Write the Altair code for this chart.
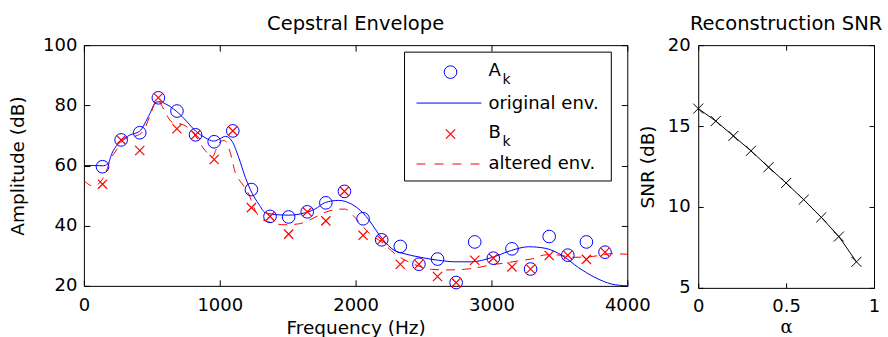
import altair as alt
import pandas as pd

FONT = "DejaVu Sans"
BLUE = "#0000ff"
RED = "#ff0000"
XMARK = "M-1,-1L1,1M-1,1L1,-1"

# ---------------- data ----------------
F0 = 137  # fundamental (Hz)
harmonic = list(range(1, 29))
A_k = [59.6, 68.5, 70.9, 82.5, 78.1, 70.2, 67.9, 71.5, 52.0, 43.1, 42.9, 44.6, 47.6, 51.4,
       42.3, 35.3, 33.1, 27.2, 28.9, 21.1, 34.6, 29.2, 32.3, 25.6, 36.4, 30.2, 34.6, 31.2]
B_k = [53.8, 68.5, 65.0, 82.5, 72.2, 70.2, 62.0, 71.5, 46.0, 43.1, 37.2, 44.6, 41.6, 51.4,
       36.8, 35.3, 27.2, 27.2, 23.1, 21.1, 28.5, 29.2, 26.3, 25.6, 30.1, 30.2, 28.8, 31.2]

orig_freq = [0, 70, 137, 176, 208, 274, 337, 410, 483, 530, 560, 600, 679, 760, 821, 895, 956,
             1005, 1042, 1090, 1140, 1189, 1238, 1287, 1336, 1434, 1507, 1630, 1700, 1777, 1875,
             1973, 2059, 2096, 2194, 2292, 2341, 2488, 2610, 2733, 2855, 3002, 3149, 3272, 3395,
             3517, 3640, 3762, 3885, 4000]
orig_db = [60.0, 60.0, 59.9, 60.5, 64.2, 68.1, 70.1, 71.4, 77.0, 81.0, 81.2, 80.5, 78.1, 74.5,
           71.5, 69.2, 68.1, 69.0, 69.7, 68.1, 62.6, 56.0, 50.8, 47.2, 44.3, 43.6, 43.5, 44.3,
           45.5, 47.7, 48.4, 47.1, 44.0, 42.0, 35.8, 31.6, 30.9, 29.4, 28.5, 28.0, 28.0, 29.4,
           31.8, 33.0, 32.5, 30.2, 26.1, 22.8, 20.6, 20.0]

alt_freq = [0, 66, 110, 160, 200, 235, 274, 310, 410, 450, 485, 544, 567, 655, 728, 801, 838,
            875, 926, 945, 975, 1005, 1035, 1078, 1115, 1164, 1213, 1262, 1300, 1380, 1480, 1580,
            1680, 1780, 1875, 1924, 2000, 2100, 2200, 2300, 2430, 2560, 2680, 2800, 2900, 3000,
            3100, 3200, 3300, 3400, 3480, 3600, 3700, 3810, 3885, 4000]
alt_db = [55.0, 53.2, 54.0, 57.5, 62.5, 64.8, 67.6, 69.0, 70.3, 72.5, 76.4, 82.0, 80.4, 74.2,
          73.6, 71.0, 68.8, 66.0, 63.5, 62.8, 65.5, 68.0, 68.3, 64.2, 57.5, 54.0, 50.5, 45.0,
          42.5, 41.0, 40.3, 40.6, 42.3, 44.5, 45.5, 45.5, 42.5, 37.5, 34.3, 30.3, 27.2, 25.5,
          25.3, 25.5, 26.1, 27.0, 27.6, 28.3, 29.0, 30.3, 30.3, 29.5, 29.6, 30.2, 30.7, 30.5]

alpha_vals = [0.0, 0.1, 0.2, 0.3, 0.4, 0.5, 0.6, 0.7, 0.8, 0.9]
snr_db = [16.08, 15.31, 14.39, 13.47, 12.46, 11.48, 10.45, 9.36, 8.17, 6.61]

freq_ticks = [0, 1000, 2000, 3000, 4000]
amp_ticks = [20, 40, 60, 80, 100]
alpha_ticks = [0, 0.5, 1]
snr_ticks = [5, 10, 15, 20]

legend_labels = ["A", "original env.", "B", "altered env."]
legend_sub = "k"

harm_df = pd.DataFrame({"freq": [k * F0 for k in harmonic], "A": A_k, "B": B_k})
orig_df = pd.DataFrame({"freq": orig_freq, "db": orig_db})
altd_df = pd.DataFrame({"freq": alt_freq, "db": alt_db})
snr_df = pd.DataFrame({"alpha": alpha_vals, "snr": snr_db})
one = pd.DataFrame({"i": [0]})

# ---------------- geometry ----------------
L_W, L_H = 544, 241
R_W, R_H = 176, 243
TITLE_OFFSET = -13.5


def axis(orient, values, title=None, labels=True, tick=6, lp=8, tp=5, fmt=None,
         title_font=FONT, title_size=18.5):
    kw = dict(orient=orient, values=values, domain=False, grid=False, ticks=True,
              tickSize=tick, offset=-tick, tickColor="black", tickWidth=1,
              labels=labels, labelFont=FONT, labelFontSize=18, labelColor="black",
              labelPadding=lp, labelFlush=False, labelOverlap=False)
    if fmt:
        kw["format"] = fmt
    if title:
        kw.update(title=title, titleFont=title_font, titleFontSize=title_size,
                  titleFontWeight="normal", titleColor="black", titlePadding=tp)
    else:
        kw["title"] = None
    return alt.Axis(**kw)


xs = alt.Scale(domain=[0, 4000], nice=False, zero=False)
ys = alt.Scale(domain=[20, 100], nice=False, zero=False)

orig_line = alt.Chart(orig_df).mark_line(color=BLUE, strokeWidth=1, interpolate="monotone").encode(
    x=alt.X("freq:Q", scale=xs, axis=axis("bottom", freq_ticks, "Frequency (Hz)", lp=11, tp=4, fmt="d")),
    y=alt.Y("db:Q", scale=ys, axis=axis("left", amp_ticks, "Amplitude (dB)", lp=7, tp=15.5, fmt="d")),
)
alt_line = alt.Chart(altd_df).mark_line(color=RED, strokeWidth=1, strokeDash=[9, 7],
                                        interpolate="monotone").encode(
    x=alt.X("freq:Q", scale=xs, axis=axis("top", freq_ticks, labels=False)),
    y=alt.Y("db:Q", scale=ys, axis=axis("right", amp_ticks, labels=False)),
)
circles = alt.Chart(harm_df).mark_point(shape="circle", filled=False, color=BLUE, size=160,
                                         strokeWidth=1, opacity=1).encode(
    x=alt.X("freq:Q", scale=xs, axis=None), y=alt.Y("A:Q", scale=ys, axis=None))
crosses = alt.Chart(harm_df).mark_point(shape=XMARK, filled=False, color=RED, size=85,
                                         strokeWidth=1.2, opacity=1).encode(
    x=alt.X("freq:Q", scale=xs, axis=None), y=alt.Y("B:Q", scale=ys, axis=None))

# legend (drawn inside plot area, pixel positions)
lg_box = alt.Chart(one).mark_rect(fill="white", stroke="black", strokeWidth=1).encode(
    x=alt.value(321), x2=alt.value(528), y=alt.value(7), y2=alt.value(136))
lg_circ = alt.Chart(one).mark_point(shape="circle", filled=False, color=BLUE, size=160,
                                     strokeWidth=1, opacity=1).encode(x=alt.value(367), y=alt.value(27))
lg_bline = alt.Chart(one).mark_rule(color=BLUE, strokeWidth=1).encode(
    x=alt.value(333), x2=alt.value(398), y=alt.value(58))
lg_cross = alt.Chart(one).mark_point(shape=XMARK, filled=False, color=RED, size=85,
                                      strokeWidth=1.2, opacity=1).encode(x=alt.value(367), y=alt.value(89))
lg_rline = alt.Chart(one).mark_rule(color=RED, strokeWidth=1, strokeDash=[9, 9]).encode(
    x=alt.value(333), x2=alt.value(398), y=alt.value(119))


def lg_text(txt, x, y, size=18):
    return alt.Chart(one).mark_text(align="left", baseline="alphabetic", font=FONT, fontSize=size,
                                    color="black").encode(x=alt.value(x), y=alt.value(y),
                                                          text=alt.value(txt))


lg_texts = [
    lg_text(legend_labels[0], 405, 31), lg_text(legend_sub, 419, 39, 14),
    lg_text(legend_labels[1], 405, 64),
    lg_text(legend_labels[2], 405, 93), lg_text(legend_sub, 419, 101, 14),
    lg_text(legend_labels[3], 405, 124),
]

left = alt.layer(orig_line, alt_line, circles, crosses, lg_box, lg_circ, lg_bline, lg_cross,
                 lg_rline, *lg_texts).resolve_axis(x="independent", y="independent").properties(
    width=L_W, height=L_H,
    title=alt.TitleParams("Cepstral Envelope", font=FONT, fontSize=19.5, fontWeight="normal",
                          anchor="middle", frame="group", baseline="alphabetic",
                          offset=TITLE_OFFSET, color="black"))

xs2 = alt.Scale(domain=[0, 1], nice=False, zero=False)
ys2 = alt.Scale(domain=[5, 20], nice=False, zero=False)
snr_line = alt.Chart(snr_df).mark_line(color="black", strokeWidth=1).encode(
    x=alt.X("alpha:Q", scale=xs2, axis=axis("bottom", alpha_ticks, "α", tick=5, lp=10, tp=3,
                                             fmt="~g", title_font="DejaVu Serif", title_size=18)),
    y=alt.Y("snr:Q", scale=ys2, axis=axis("left", snr_ticks, "SNR (dB)", tick=5, lp=8, tp=10, fmt="d")),
)
snr_pts = alt.Chart(snr_df).mark_point(shape=XMARK, filled=False, color="black", size=100,
                                        strokeWidth=1, opacity=1).encode(
    x=alt.X("alpha:Q", scale=xs2, axis=axis("top", alpha_ticks, labels=False, tick=5)),
    y=alt.Y("snr:Q", scale=ys2, axis=axis("right", snr_ticks, labels=False, tick=5)),
)
right = alt.layer(snr_line, snr_pts).resolve_axis(x="independent", y="independent").properties(
    width=R_W, height=R_H,
    title=alt.TitleParams("Reconstruction SNR", font=FONT, fontSize=19.5, fontWeight="normal",
                          anchor="middle", frame="group", baseline="alphabetic",
                          offset=TITLE_OFFSET, color="black"))

chart = alt.hconcat(left, right, spacing=71, bounds="flush").properties(
    padding={"left": 7, "top": 13, "right": 5, "bottom": 2}, background="white"
).configure_view(stroke="black", strokeWidth=1)

chart.save("out.html", embed_options={"renderer": "svg", "actions": False})
